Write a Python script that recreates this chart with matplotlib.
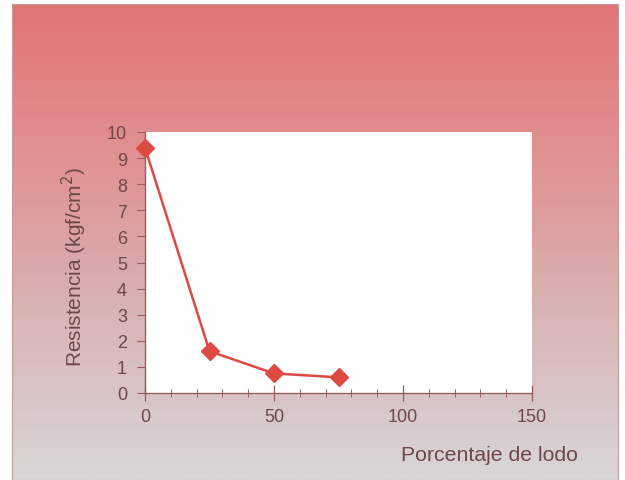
import numpy as np
import matplotlib.pyplot as plt
from matplotlib.colors import LinearSegmentedColormap

# data
lodo = [0, 25, 50, 75]
resistencia = [9.4, 1.6, 0.75, 0.6]
xticks = [0, 50, 100, 150]
yticks = list(range(0, 11))

plt.rcParams['font.family'] = ['Liberation Sans', 'DejaVu Sans']

fig = plt.figure(figsize=(6.25, 4.81), dpi=100)

# gradient backdrop (red at top fading to light grey)
bg = fig.add_axes([12/625, 0, 606/625, 476/481])
cmap = LinearSegmentedColormap.from_list(
    'bg', [(0.0, '#e27475'), (0.35, '#e09495'), (0.65, '#d8b4b5'), (1.0, '#d9d6d7')])
grad = np.linspace(0, 1, 256).reshape(-1, 1)
bg.imshow(grad, aspect='auto', cmap=cmap, extent=[0, 1, 0, 1], origin='upper')
bg.set_xlim(0, 1)
bg.set_ylim(0, 1)
bg.set_xticks([])
bg.set_yticks([])
for s in bg.spines.values():
    s.set_color('#c79a9b')
    s.set_linewidth(0.8)

ax = fig.add_axes([145/625, 87/481, 387/625, 261/481])
ax.set_facecolor('white')
ax.plot(lodo, resistencia, color='#dc4a42', lw=1.8, marker='D', ms=9,
        mfc='#dc4a42', mec='#dc4a42', clip_on=False, zorder=5)

ax.set_xlim(0, 150)
ax.set_ylim(0, 10)
ax.set_xticks(xticks)
ax.set_xticks(range(0, 151, 10), minor=True)
ax.set_yticks(yticks)

txt = '#6e4848'
spc = '#9c5c5c'
for side in ['top', 'right']:
    ax.spines[side].set_visible(False)
for side in ['left', 'bottom']:
    ax.spines[side].set_color(spc)
    ax.spines[side].set_linewidth(1.0)

ax.tick_params(axis='x', which='major', direction='inout', length=11, width=0.9,
               color=spc, labelcolor=txt, labelsize=13, pad=5)
ax.tick_params(axis='x', which='minor', direction='inout', length=6, width=0.7, color=spc)
ax.tick_params(axis='y', which='major', direction='out', length=6, width=0.8,
               color=spc, labelcolor=txt, labelsize=13, pad=7)

ax.set_xlabel('Porcentaje de lodo', color=txt, fontsize=15.3)
ax.xaxis.set_label_coords(0.889, -0.2)
ax.set_ylabel('Resistencia (kgf/cm$^2$)', color=txt, fontsize=15)
ax.yaxis.set_label_coords(-0.145, 0.485)

fig.savefig('out.png', dpi=100)
